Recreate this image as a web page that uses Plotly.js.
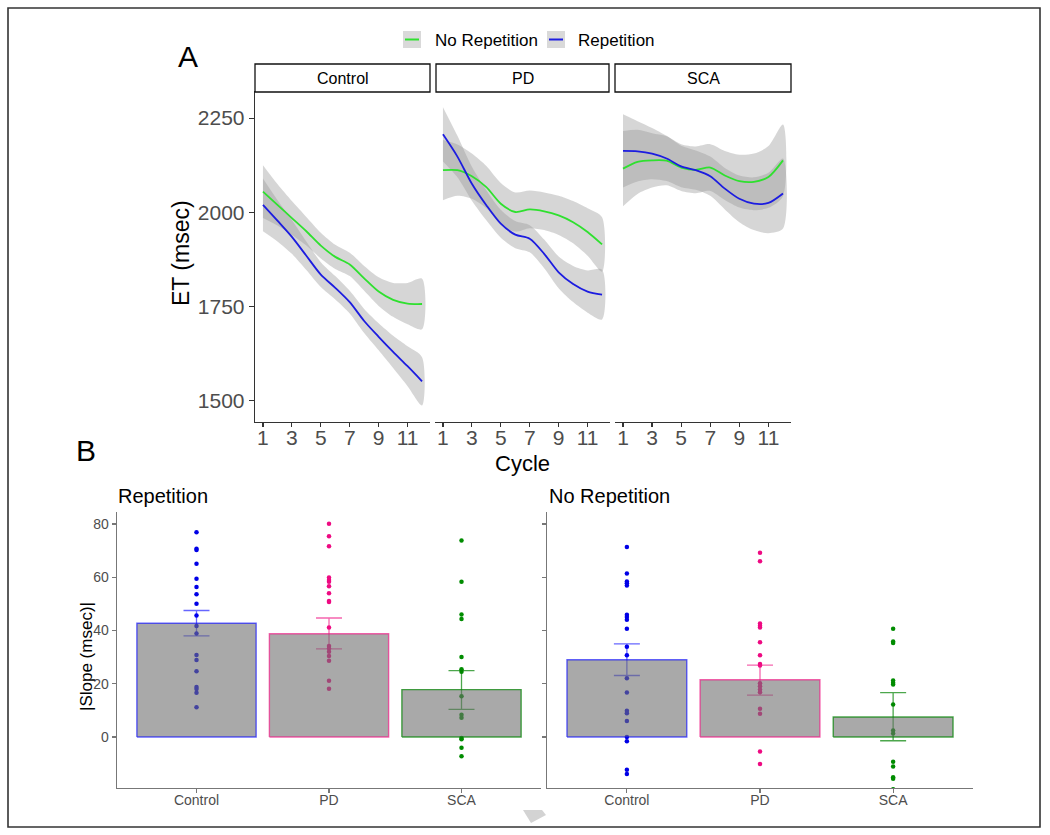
<!DOCTYPE html>
<html><head><meta charset="utf-8">
<script src="https://cdn.plot.ly/plotly-3.0.1.min.js"></script>
<style>html,body{margin:0;padding:0;background:#fff}</style>
</head><body><div id="chart" style="width:1050px;height:835px"></div>
<script>
// ---------- Panel A data (smoothed ET curves) ----------
const cycles = [1,2,3,4,5,6,7,8,9,10,11,12];
const cycleTicks = [1,3,5,7,9,11];
const facets = ["Control","PD","SCA"];
const etTicks = [1500,1750,2000,2250];

const controlNoRep = [2055,2020,1985,1950,1912,1882,1862,1825,1790,1768,1758,1757];
const controlRep   = [2020,1978,1935,1885,1835,1800,1762,1712,1670,1630,1592,1552];
const pdNoRep      = [2112,2112,2096,2067,2023,2001,2008,2003,1992,1974,1948,1915];
const pdRep        = [2207,2148,2076,2019,1970,1941,1930,1890,1841,1810,1790,1782];
const scaNoRep     = [2116,2134,2138,2137,2119,2113,2119,2098,2083,2081,2094,2138];
const scaRep       = [2163,2162,2156,2143,2122,2112,2096,2063,2036,2023,2025,2050];

// half-widths of the grey confidence ribbons
const controlNoRepCI = [70,55,45,38,34,32,31,33,38,45,55,67];
const controlRepCI   = [70,55,45,38,33,31,30,32,36,43,53,64];
const pdNoRepCI      = [80,68,60,56,55,52,50,50,52,56,63,72];
const pdRepCI        = [72,55,45,40,37,36,36,38,42,48,56,66];
const scaNoRepCI     = [100,85,72,65,62,62,62,65,70,75,82,95];
const scaRepCI       = [97,80,68,60,55,52,52,55,62,70,80,93];

// ---------- Panel B data (|slope| per subject, bar means, error limits) ----------
const groups = ["Control","PD","SCA"];
const slopeTicks = [0,20,40,60,80];

const repControl = [76.9,70.7,70.2,65.1,59.4,56.3,53.6,50.0,45.6,41.7,38.9,30.8,28.9,24.7,18.8,18.0,16.6,11.2];
const repPD      = [80.1,75.4,71.6,59.9,59.0,58.3,56.6,54.0,51.1,50.7,41.1,34.2,33.2,32.0,30.4,28.6,21.1,18.1];
const repSCA     = [73.8,58.3,46.0,44.3,30.0,25.4,24.5,15.3,8.4,7.2,-0.4,-0.8,-4.0,-7.2];
const noRepControl = [71.4,61.4,58.4,57.7,56.9,45.9,45.1,44.0,40.7,33.9,30.7,22.1,16.7,9.9,8.9,6.0,0,-1.6,-12.3,-13.9];
const noRepPD      = [69.2,66.0,42.6,41.8,41.1,35.6,30.7,27.4,26.9,20.2,19.1,17.8,16.8,10.6,8.7,-5.4,-10.1];
const noRepSCA     = [40.7,35.9,35.3,21.2,20.4,19.7,12.2,2.4,1.3,-9.3,-11.1,-15.1,-15.7,-19.6];

const repMean = [42.7,38.8,17.8];
const repLow  = [38.0,33.1,10.4];
const repHigh = [47.5,44.7,24.9];
const noRepMean = [29.0,21.5,7.5];
const noRepLow  = [23.1,15.7,-1.4];
const noRepHigh = [35.0,27.0,16.7];

// ---------- styling ----------
const FONT = "Liberation Sans, Arial, Helvetica, sans-serif";
const W = 1050, H = 835;
const px = x => x / W, py = y => 1 - y / H;
const GREEN = "#2fe02f", BLUE = "#1c1ce0";
const RIBBON = "rgba(153,153,153,0.4)";
const ptColors = ["#0000e6","#ee0a82","#008c00"];
const edgeColors = ["rgba(0,0,255,0.6)","rgba(240,20,130,0.65)","rgba(0,130,0,0.7)"];
const BARFILL = "rgba(112,112,112,0.6)";

const traces = [];
const panelA = [
  {no: controlNoRep, rep: controlRep, noCI: controlNoRepCI, repCI: controlRepCI},
  {no: pdNoRep, rep: pdRep, noCI: pdNoRepCI, repCI: pdRepCI},
  {no: scaNoRep, rep: scaRep, noCI: scaNoRepCI, repCI: scaRepCI}
];
panelA.forEach((p, k) => {
  const xa = k === 0 ? "x" : "x" + (k + 1);
  const ya = k === 0 ? "y" : "y" + (k + 1);
  [[p.no, p.noCI], [p.rep, p.repCI]].forEach(([m, ci]) => {
    const up = m.map((v, i) => v + ci[i]);
    const lo = m.map((v, i) => v - ci[i]);
    traces.push({
      type: "scatter", mode: "lines", xaxis: xa, yaxis: ya,
      x: cycles.concat(cycles.slice().reverse()),
      y: up.concat(lo.slice().reverse()),
      fill: "toself", fillcolor: RIBBON,
      line: {width: 0, shape: "spline", smoothing: 0.8},
      hoverinfo: "skip", showlegend: false
    });
  });
  traces.push({type: "scatter", mode: "lines", xaxis: xa, yaxis: ya, x: cycles, y: p.no,
    line: {color: GREEN, width: 1.8, shape: "spline", smoothing: 0.8}, showlegend: false});
  traces.push({type: "scatter", mode: "lines", xaxis: xa, yaxis: ya, x: cycles, y: p.rep,
    line: {color: BLUE, width: 1.8, shape: "spline", smoothing: 0.8}, showlegend: false});
});

// Panel B
const panelB = [
  {xa: "x4", ya: "y4", pts: [repControl, repPD, repSCA], mean: repMean, lo: repLow, hi: repHigh},
  {xa: "x5", ya: "y5", pts: [noRepControl, noRepPD, noRepSCA], mean: noRepMean, lo: noRepLow, hi: noRepHigh}
];
panelB.forEach(p => {
  p.pts.forEach((vals, g) => {
    traces.push({type: "scatter", mode: "markers", xaxis: p.xa, yaxis: p.ya,
      x: vals.map(() => g + 1), y: vals,
      marker: {color: ptColors[g], size: 4.5}, showlegend: false, cliponaxis: true});
  });
  groups.forEach((gname, g) => {
    traces.push({type: "scatter", mode: "markers", xaxis: p.xa, yaxis: p.ya,
      x: [g + 1], y: [p.mean[g]],
      marker: {size: 0.1, color: "rgba(0,0,0,0)"},
      error_y: {type: "data", symmetric: false,
        array: [p.hi[g] - p.mean[g]], arrayminus: [p.mean[g] - p.lo[g]],
        color: edgeColors[g], thickness: 1.3, width: 13},
      showlegend: false});
  });
  groups.forEach((gname, g) => {
    const c = g + 1, v = p.mean[g];
    traces.push({type: "scatter", mode: "lines", xaxis: p.xa, yaxis: p.ya,
      x: [c - 0.45, c - 0.45, c + 0.45, c + 0.45, c - 0.45],
      y: [0, v, v, 0, 0],
      fill: "toself", fillcolor: BARFILL,
      line: {color: edgeColors[g], width: 1.4}, showlegend: false, hoverinfo: "skip"});
  });
});

const tickFontA = {family: FONT, size: 21, color: "#4d4d4d"};
const tickFontB = {family: FONT, size: 14, color: "#4d4d4d"};
const yDomA = [py(422), py(91)];
const yDomB = [py(788), py(512)];

function xA(d0, d1, anchor) {
  return {domain: [px(d0), px(d1)], range: [0.45, 12.55], anchor: anchor,
    tickmode: "array", tickvals: cycleTicks, ticktext: cycleTicks.map(String),
    ticks: "outside", ticklen: 4, tickwidth: 1.2, tickcolor: "#333",
    ticklabelstandoff: -8,
    showline: true, linecolor: "#333", linewidth: 1.3,
    showgrid: false, zeroline: false, tickfont: tickFontA, fixedrange: true};
}
function yA(anchor, show) {
  return {domain: yDomA, range: [1444, 2322], anchor: anchor,
    tickmode: "array", tickvals: etTicks,
    ticks: show ? "outside" : "", ticklen: 5, tickwidth: 1.2, tickcolor: "#333",
    showline: show, linecolor: "#333", linewidth: 1.3, showticklabels: show,
    showgrid: false, zeroline: false, tickfont: tickFontA};
}
function xB(d0, d1, anchor) {
  return {domain: [px(d0), px(d1)], range: [0.4, 3.6], anchor: anchor,
    tickmode: "array", tickvals: [1, 2, 3], ticktext: groups,
    ticks: "outside", ticklen: 4, tickwidth: 1.1, tickcolor: "#777",
    ticklabelstandoff: -5,
    showline: true, linecolor: "#777", linewidth: 1.3,
    showgrid: false, zeroline: false, tickfont: tickFontB};
}
function yB(anchor, show) {
  return {domain: yDomB, range: [-19.15, 84.5], anchor: anchor,
    tickmode: "array", tickvals: slopeTicks,
    ticks: "outside", ticklen: 4, tickwidth: 1.1, tickcolor: "#777",
    showline: true, linecolor: "#777", linewidth: 1.3, showticklabels: show,
    showgrid: false, zeroline: false, tickfont: tickFontB};
}

function ann(text, x, y, size, opts) {
  return Object.assign({text: text, x: px(x), y: py(y), xref: "paper", yref: "paper",
    showarrow: false, xanchor: "center", yanchor: "middle",
    font: {family: FONT, size: size, color: "#000"}}, opts || {});
}

const stripX = [[255, 430], [436, 609], [615, 791]];
const shapes = [
  {type: "rect", xref: "paper", yref: "paper", x0: px(8), x1: px(1040), y0: py(827), y1: py(8),
   line: {color: "#333", width: 1.6}, fillcolor: "rgba(0,0,0,0)"},
  {type: "rect", xref: "paper", yref: "paper", x0: px(403), x1: px(421), y0: py(48), y1: py(31),
   line: {width: 0}, fillcolor: "#d9d9d9"},
  {type: "line", xref: "paper", yref: "paper", x0: px(405), x1: px(419), y0: py(39.5), y1: py(39.5),
   line: {color: GREEN, width: 2}},
  {type: "rect", xref: "paper", yref: "paper", x0: px(547), x1: px(565), y0: py(48), y1: py(31),
   line: {width: 0}, fillcolor: "#d9d9d9"},
  {type: "line", xref: "paper", yref: "paper", x0: px(549), x1: px(563), y0: py(39.5), y1: py(39.5),
   line: {color: BLUE, width: 2}},
  {type: "path", xref: "paper", yref: "paper",
   path: `M ${px(523)} ${py(810)} L ${px(542)} ${py(810)} L ${px(546)} ${py(815)} L ${px(531)} ${py(823)} Z`,
   fillcolor: "#d3d3d3", line: {width: 0}}
];
stripX.forEach(([a, b]) => shapes.push({type: "rect", xref: "paper", yref: "paper",
  x0: px(a), x1: px(b), y0: py(92), y1: py(64), line: {color: "#111", width: 1.3}, fillcolor: "#fff"}));

const annotations = [
  ann("A", 188, 56, 30),
  ann("B", 86, 451, 30),
  ann("No Repetition", 433, 40, 17, {xanchor: "left"}),
  ann("Repetition", 576, 40, 17, {xanchor: "left"}),
  ann("ET (msec)", 181, 253, 23, {textangle: -90}),
  ann("Cycle", 522, 463, 22),
  ann("Repetition", 116, 496, 20, {xanchor: "left"}),
  ann("No Repetition", 547, 496, 20, {xanchor: "left"}),
  ann("|Slope (msec)|", 86, 657, 17, {textangle: -90})
];
facets.forEach((f, k) => annotations.push(ann(f, (stripX[k][0] + stripX[k][1]) / 2, 78, 16)));

const layout = {
  width: W, height: H, margin: {l: 0, r: 0, t: 0, b: 0},
  paper_bgcolor: "#fff", plot_bgcolor: "rgba(0,0,0,0)",
  showlegend: false, font: {family: FONT},
  xaxis: xA(255, 430, "y"), yaxis: yA("x", true),
  xaxis2: xA(435, 610, "y2"), yaxis2: yA("x2", false),
  xaxis3: xA(615, 791, "y3"), yaxis3: yA("x3", false),
  xaxis4: xB(117, 541, "y4"), yaxis4: yB("x4", true),
  xaxis5: xB(547, 973, "y5"), yaxis5: yB("x5", false),
  shapes: shapes, annotations: annotations
};

Plotly.newPlot("chart", traces, layout, {displayModeBar: false, staticPlot: true});
</script></body></html>
